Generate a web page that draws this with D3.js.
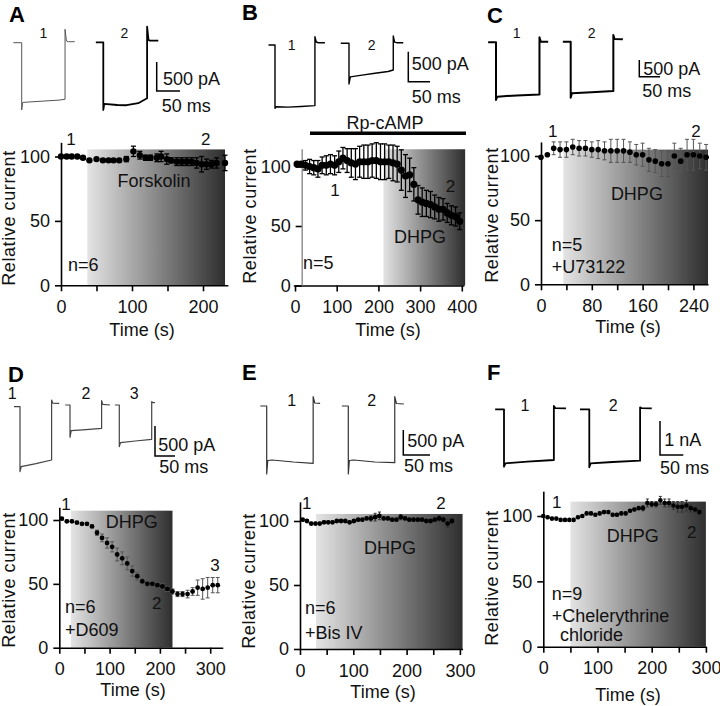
<!DOCTYPE html>
<html><head><meta charset="utf-8">
<script src="https://cdn.jsdelivr.net/npm/d3@7"></script>
<style>body{margin:0;background:#fff} svg text{font-family:"Liberation Sans",Arial,Helvetica,sans-serif;fill:#111}</style>
</head><body><svg id="c" width="720" height="706"></svg>
<script>
// ---------- time-course data (time s, relative current %, error) ----------
const A_time = [0,8,15,23,31,40,50,59,67,74,82,92,102,111,119,126,135,141,149,155,163,170,177,184,191,198,205,212,219,231];
const A_val  = [100,100,100,100,99,97,98,97,97,97,97,98,104,101,99,99,99,100,98,97,96,96,96,96,95,94,94,94,95,95];
const A_err  = [0,0,0,0,1,1,1,1,1,1,1,2,4,3,2,2,3,4,4,2,3,3,3,3,4,6,4,3,4,6];

const B_time = [5,15,25,35,45,55,65,75,85,95,105,115,125,135,145,155,165,175,185,195,205,215,225,235,245,255,265,275,285,295,305,315,325,335,345,355,365,375,385,395];
const B_val  = [102,102,101,100,99,98,101,101,102,101,104,107,105,103,102,104,104,104,105,105,104,104,104,103,102,97,92,93,85,72,70,69,68,66,64,64,61,59,58,54];
const B_err  = [1,2,4,6,6,7,7,8,8,8,9,9,10,12,13,13,14,14,14,15,15,15,14,15,15,17,18,14,14,12,12,11,11,10,10,9,8,8,8,7];

const C_time = [0,10,20,30,40,50,60,70,80,90,100,110,120,130,140,150,160,170,180,190,200,210,220,230,240,250,260];
const C_val  = [99,101,106,105,105,107,106,106,105,105,104,104,104,104,103,101,101,97,96,94,94,100,96,101,101,100,99];
const C_err  = [0,1,5,6,6,6,6,6,6,7,7,9,9,9,8,8,9,9,9,10,10,10,10,12,12,10,10];

const D_time = [5,15,25,35,45,55,65,75,85,95,105,115,125,135,145,155,165,175,185,195,205,215,225,235,245,255,265,275,285,295,305,315];
const D_val  = [101,99,99,98,97,97,95,90,86,82,79,73,70,66,60,56,52,50,50,49,48,46,44,42,42,42,44,47,46,47,49,49];
const D_err  = [1,1,1,1,1,1,1,2,3,4,4,5,5,5,4,3,2,2,2,2,2,2,2,2,2,3,3,6,8,8,6,6];

const E_time = [5,13,21,29,37,45,53,61,69,77,85,93,101,109,117,125,133,141,149,157,165,173,181,189,197,205,213,221,229,237,245,253,261,269,277,285];
const E_val  = [101,100,98,98,98,99,99,99,100,100,100,99,100,101,101,102,102,103,104,102,102,101,101,103,102,101,101,101,101,100,100,101,102,101,98,100];
const E_err  = [1,1,1,1,1,1,1,1,1,1,1,1,1,1,1,1,2,3,3,1,1,1,1,2,1,1,1,1,1,1,1,1,2,2,3,2];

const F_time = [0,8,16,24,32,40,48,56,64,72,80,88,96,104,112,120,128,136,144,152,160,168,176,184,192,200,208,216,224,232,240,248,256,264,272,280,288];
const F_val  = [100,99,98,98,97,97,97,97,99,100,102,102,101,102,103,103,101,101,102,102,104,105,106,106,110,109,109,112,110,110,108,107,107,108,106,105,103];
const F_err  = [1,1,1,1,1,1,1,1,1,1,1,1,1,1,1,1,1,1,1,1,1,1,1,2,3,2,2,3,3,3,3,4,4,4,3,2,2];

// ---------- example current traces ([ms, pA]) ----------
const A_trace1 = [[-18,0],[0,0],[0,-1160],[2,-1030],[20,-1020],[50,-1005],[80,-990],[93,-976],[93,231],[96,30],[100,17],[114,17]];
const A_trace2 = [[-16,0],[0,0],[0,-1167],[2,-1060],[30,-1081],[50,-1085],[75,-1050],[94,-966],[94,269],[97,40],[100,28],[118,28]];
const B_trace1 = [[-15,0],[0,0],[0,-1055],[3,-1030],[30,-1035],[60,-1025],[92,-1010],[92,138],[95,50],[100,38],[115,38]];
const B_trace2 = [[-19,0],[0,0],[0,-678],[3,-560],[30,-530],[60,-500],[90,-470],[102,-445],[102,122],[105,20],[110,10],[125,10]];
const C_trace1 = [[-19,0],[0,0],[0,-1725],[3,-1630],[50,-1590],[105,-1560],[105,150],[108,20],[126,20]];
const C_trace2 = [[-19,0],[0,0],[0,-1677],[3,-1545],[50,-1510],[103,-1479],[103,200],[106,80],[126,72]];
const D_trace1 = [[-15,0],[0,0],[0,-1083],[3,-1000],[40,-950],[79,-888],[79,112],[82,60],[98,57]];
const D_trace2 = [[-12,0],[0,0],[0,-538],[3,-428],[40,-410],[79,-388],[79,72],[82,10],[100,0]];
const D_trace3 = [[-11,0],[0,0],[0,-695],[3,-628],[40,-600],[81,-572],[81,55],[84,40],[89,38]];
const E_trace1 = [[-12,0],[0,0],[0,-1360],[2,-1090],[10,-1080],[50,-1120],[87,-1146],[87,186],[90,60],[100,54]];
const E_trace2 = [[-12,0],[0,0],[0,-1360],[2,-1090],[10,-1080],[50,-1120],[87,-1134],[87,186],[90,50],[104,40]];
const F_trace1 = [[-19,0],[0,0],[0,-1688],[3,-1588],[50,-1540],[107,-1491],[107,97],[110,35],[133,29]];
const F_trace2 = [[-20,0],[0,0],[0,-1706],[3,-1588],[50,-1550],[109,-1512],[109,59],[112,35],[134,29]];

const yTickValues = [0,50,100];

// ---------- layout ----------
const svg = d3.select('#c');
const defs = svg.append('defs');
const grad = defs.append('linearGradient').attr('id','grad').attr('x1',0).attr('x2',1).attr('y1',0).attr('y2',0);
grad.append('stop').attr('offset','0%').attr('stop-color','#e4e4e4');
grad.append('stop').attr('offset','100%').attr('stop-color','#2e2e2e');

const panels = [
 {letter:'A', lp:[9,22], px0:61, xk:0.71, xDom:[0,235], py0:285.3, yk:1.288, yTop:111, yAxisAt:0,
  xTicks:[0,50,100,150,200], xLabels:[0,100,200], time:A_time, val:A_val, err:A_err, r:3.2, ecol:'#000', ew:1.3, cap:5,
  shade:[37,231,105.5], timeLab:[142,330], yLab:[9,218],
  notes:[['1',14,113.6,'middle'],['2',204,113.6,'middle'],['Forskolin',131,81,'middle'],['n=6',10,15.8,'start']]},
 {letter:'B', lp:[242,20], px0:295, xk:0.417, xDom:[-4,405], py0:285.5, yk:1.19, yTop:115, yAxisAt:16,
  xTicks:[0,100,200,300,400], xLabels:[0,100,200,300,400], time:B_time, val:B_val, err:B_err, r:3.6, ecol:'#000', ew:1.3, cap:5,
  shade:[212,408,114.5], timeLab:[388,330], yLab:[250,216],
  notes:[['1',96,80.3,'middle'],['2',373,83.9,'middle'],['DHPG',300,40.8,'middle'],['n=5',19,18.9,'start']]},
 {letter:'C', lp:[487,23], px0:541, xk:0.635, xDom:[0,263], py0:284.3, yk:1.283, yTop:111, yAxisAt:0,
  xTicks:[0,40,80,120,160,200,240], xLabels:[0,80,160,240], time:C_time, val:C_val, err:C_err, r:2.8, ecol:'#555', ew:1, cap:4,
  shade:[35,263,105], timeLab:[628,327], yLab:[492,215],
  notes:[['1',18.4,119.7,'middle'],['2',244,119.7,'middle'],['DHPG',151,70.9,'middle'],['n=5',16.9,30.6,'start'],['+U73122',16.9,13.7,'start']]},
 {letter:'D', lp:[8,381.5], px0:59.3, xk:0.503, xDom:[0,325], py0:647.7, yk:1.277, yTop:110, yAxisAt:0,
  xTicks:[0,50,100,150,200,250,300], xLabels:[0,100,200,300], time:D_time, val:D_val, err:D_err, r:2.4, ecol:'#555', ew:1, cap:4,
  shade:[23,225,107.3], timeLab:[133,690], yLab:[8.5,580],
  notes:[['1',13.3,112.5,'middle'],['2',193.6,34.8,'middle'],['3',309.5,64.6,'middle'],['DHPG',144,98.7,'middle'],['n=6',11.3,32,'start'],['+D609',11.3,13.9,'start']]},
 {letter:'E', lp:[242,380], px0:300, xk:0.533, xDom:[0,305], py0:649, yk:1.28, yTop:115, yAxisAt:0,
  xTicks:[0,50,100,150,200,250,300], xLabels:[0,100,200,300], time:E_time, val:E_val, err:E_err, r:2.4, ecol:'#333', ew:1, cap:3,
  shade:[30,305,105.5], timeLab:[383,692], yLab:[248.5,581],
  notes:[['1',12.6,113.8,'middle'],['2',264.5,113.8,'middle'],['DHPG',168.9,79.5,'middle'],['n=6',9.4,32,'start'],['+Bis IV',9.4,12.5,'start']]},
 {letter:'F', lp:[487,380], px0:543.3, xk:0.542, xDom:[0,300], py0:646.7, yk:1.307, yTop:119, yAxisAt:0,
  xTicks:[0,50,100,150,200,250,300], xLabels:[0,100,200,300], time:F_time, val:F_val, err:F_err, r:2.3, ecol:'#333', ew:1, cap:3,
  shade:[50,300,111], timeLab:[628,695], yLab:[492,578],
  notes:[['1',24.7,111,'middle'],['2',273.8,88,'middle'],['DHPG',165,84.6,'middle'],['n=9',15.5,40.9,'start'],['+Chelerythrine',15.5,23.5,'start'],['chloride',30.8,8.9,'start']]}
];

function drawPanel(p){
  const g = svg.append('g');
  const x = d3.scaleLinear().domain(p.xDom).range([p.px0 + p.xDom[0]*p.xk, p.px0 + p.xDom[1]*p.xk]);
  const y = d3.scaleLinear().domain([0, p.yTop]).range([p.py0, p.py0 - p.yTop*p.yk]);
  g.append('rect').attr('x', x(p.shade[0])).attr('width', x(p.shade[1]) - x(p.shade[0]))
    .attr('y', y(p.shade[2])).attr('height', y(0) - y(p.shade[2])).attr('fill','url(#grad)');

  const xa = d3.axisBottom(x).tickValues(p.xTicks).tickSize(6).tickSizeOuter(0).tickPadding(9)
    .tickFormat(d => p.xLabels.includes(d) ? d : '');
  const gx = g.append('g').attr('transform', `translate(0,${y(0)})`).call(xa);
  const ya = d3.axisLeft(y).tickValues(yTickValues).tickSize(6).tickSizeOuter(0).tickPadding(5);
  const gy = g.append('g').attr('transform', `translate(${x(p.yAxisAt)},0)`).call(ya);
  [gx, gy].forEach(a => {
    a.attr('font-size', 18).attr('font-family', '"Liberation Sans",Arial,sans-serif');
    a.selectAll('path,line').attr('stroke', '#000').attr('stroke-width', 1.6);
    a.selectAll('text').attr('fill', '#111');
  });
  if (p.letter === 'B') gy.select('path').attr('stroke','#777').attr('stroke-width',1.2);

  // error bars
  const pts = p.time.map((t,i) => ({t, v:p.val[i], e:p.err[i]}));
  const eb = g.append('g').attr('stroke', p.ecol).attr('stroke-width', p.ew);
  pts.filter(d => d.e > 0).forEach(d => {
    eb.append('line').attr('x1', x(d.t)).attr('x2', x(d.t)).attr('y1', y(d.v - d.e)).attr('y2', y(d.v + d.e));
    eb.append('line').attr('x1', x(d.t) - p.cap/2).attr('x2', x(d.t) + p.cap/2).attr('y1', y(d.v + d.e)).attr('y2', y(d.v + d.e));
    eb.append('line').attr('x1', x(d.t) - p.cap/2).attr('x2', x(d.t) + p.cap/2).attr('y1', y(d.v - d.e)).attr('y2', y(d.v - d.e));
  });
  g.append('g').selectAll('circle').data(pts).join('circle')
    .attr('cx', d => x(d.t)).attr('cy', d => y(d.v)).attr('r', p.r).attr('fill', '#000');

  p.notes.forEach(n => {
    g.append('text').attr('x', x(n[1])).attr('y', y(n[2])).attr('dy', '0.35em')
      .attr('text-anchor', n[3]).attr('font-size', (n[0].length === 1) ? 17 : 18).text(n[0]);
  });
  g.append('text').attr('x', p.timeLab[0]).attr('y', p.timeLab[1]).attr('dy','0.35em')
    .attr('text-anchor','middle').attr('font-size',18).text('Time (s)');
  g.append('text').attr('transform', `translate(${p.yLab[0]},${p.yLab[1]}) rotate(-90)`).attr('dy','0.35em')
    .attr('text-anchor','middle').attr('font-size',18).attr('letter-spacing','0.6px').text('Relative current');
  g.append('text').attr('x', p.lp[0]).attr('y', p.lp[1]).attr('font-size', 22).attr('font-weight','bold')
    .style('fill','#000').text(p.letter);

  if (p.letter === 'B') {
    g.append('line').attr('x1', x(36)).attr('x2', x(410)).attr('y1', y(127.9)).attr('y2', y(127.9))
      .attr('stroke','#000').attr('stroke-width', 3.5);
    g.append('text').attr('x', x(216)).attr('y', y(137)).attr('dy','0.35em').attr('text-anchor','middle')
      .attr('font-size',18).text('Rp-cAMP');
  }
}
panels.forEach(drawPanel);

// ---------- traces and scale bars ----------
const traceSets = [
 {ampBar:500, barW:23.3, barH:29, bar:[156.7,91], ampText:'500 pA', ampPos:[163,79], msPos:[161.7,106], lf:14,
  traces:[{data:A_trace1, x0:21.7, y0:42.7, stroke:'#555', sw:1, label:'1', lab:[43.3,33.3]},
          {data:A_trace2, x0:103.3, y0:42.3, stroke:'#000', sw:1.8, label:'2', lab:[124.3,33.3]}]},
 {ampBar:500, barW:21.7, barH:30, bar:[408.3,81.7], ampText:'500 pA', ampPos:[411.7,64], msPos:[411.7,96.7], lf:14,
  traces:[{data:B_trace1, x0:275, y0:45, stroke:'#000', sw:1.4, label:'1', lab:[291.7,45]},
          {data:B_trace2, x0:349, y0:43.3, stroke:'#000', sw:1.4, label:'2', lab:[371.7,45]}]},
 {ampBar:500, barW:20.7, barH:16.7, bar:[639.3,76.7], ampText:'500 pA', ampPos:[643.3,68.3], msPos:[642.3,90.7], lf:14,
  traces:[{data:C_trace1, x0:496, y0:42.3, stroke:'#000', sw:2, label:'1', lab:[516.7,33.3]},
          {data:C_trace2, x0:570.7, y0:41.7, stroke:'#000', sw:2, label:'2', lab:[591.7,33.3]}]},
 {ampBar:500, barW:20, barH:30, bar:[155,456], ampText:'500 pA', ampPos:[158.3,445], msPos:[159.3,466.7], lf:16,
  traces:[{data:D_trace1, x0:20, y0:406.7, stroke:'#444', sw:1.2, label:'1', lab:[12.3,393.3]},
          {data:D_trace2, x0:70, y0:405, stroke:'#444', sw:1.2, label:'2', lab:[86,393.3]},
          {data:D_trace3, x0:119.3, y0:405, stroke:'#444', sw:1.2, label:'3', lab:[134.3,393.3]}]},
 {ampBar:500, barW:26.7, barH:25, bar:[403.3,455], ampText:'500 pA', ampPos:[407.3,440.7], msPos:[404,466], lf:16,
  traces:[{data:E_trace1, x0:266.7, y0:406, stroke:'#333', sw:1.2, label:'1', lab:[291.7,400]},
          {data:E_trace2, x0:348.3, y0:406, stroke:'#333', sw:1.2, label:'2', lab:[371.7,400]}]},
 {ampBar:1000, barW:23.3, barH:34, bar:[660,455], ampText:'1 nA', ampPos:[664.3,439.3], msPos:[660,467.7], lf:16,
  traces:[{data:F_trace1, x0:504, y0:409.3, stroke:'#000', sw:1.8, label:'1', lab:[525,405]},
          {data:F_trace2, x0:589.3, y0:409.3, stroke:'#000', sw:1.8, label:'2', lab:[613.3,405]}]}
];

traceSets.forEach(s => {
  const g = svg.append('g');
  s.traces.forEach(t => {
    const tx = d3.scaleLinear().domain([0, 50]).range([t.x0, t.x0 + s.barW]);
    const ty = d3.scaleLinear().domain([0, -s.ampBar]).range([t.y0, t.y0 + s.barH]);
    const line = d3.line().x(d => tx(d[0])).y(d => ty(d[1]));
    g.append('path').attr('d', line(t.data)).attr('fill','none').attr('stroke', t.stroke)
      .attr('stroke-width', t.sw).attr('stroke-linejoin','round');
    g.append('text').attr('x', t.lab[0]).attr('y', t.lab[1]).attr('dy','0.35em').attr('text-anchor','middle')
      .attr('font-size', s.lf).text(t.label);
  });
  const sx = d3.scaleLinear().domain([0, 50]).range([s.bar[0], s.bar[0] + s.barW]);
  const sy = d3.scaleLinear().domain([0, s.ampBar]).range([s.bar[1], s.bar[1] - s.barH]);
  g.append('path').attr('d', `M${sx(0)},${sy(s.ampBar)}V${sy(0)}H${sx(50)}`).attr('fill','none')
    .attr('stroke','#000').attr('stroke-width',1.5);
  g.append('text').attr('x', s.ampPos[0]).attr('y', s.ampPos[1]).attr('dy','0.35em').attr('font-size',18).text(s.ampText);
  g.append('text').attr('x', s.msPos[0]).attr('y', s.msPos[1]).attr('dy','0.35em').attr('font-size',18).text('50 ms');
});
</script>
</body></html>
